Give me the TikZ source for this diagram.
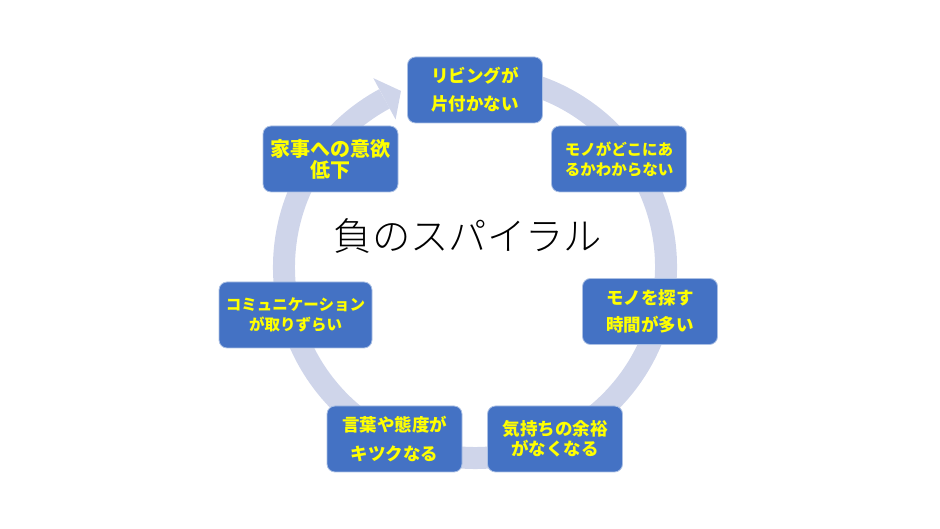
\documentclass[tikz,border=0pt]{standalone}
\usepackage{fontspec}
\newfontfamily\jpfont{Noto Sans CJK JP}
\newfontfamily\jplight{Noto Sans CJK JP}[UprightFont={* Light}]
\usepackage{tikz}
\definecolor{boxblue}{HTML}{4472C4}
\definecolor{ringblue}{HTML}{CFD5EA}
\definecolor{txtyellow}{HTML}{FFFF00}
\newcommand{\boxfont}[2]{\jpfont\bfseries\fontsize{#1}{#2}\selectfont}
\tikzset{
  stepbox/.style={draw=white!55!boxblue, line width=0.8pt, fill=boxblue,
    rounded corners=8pt, minimum width=135pt, minimum height=66pt,
    align=center, text=txtyellow, inner sep=2pt},
  ring/.style={draw=ringblue, line width=22pt},
}

\begin{document}
\begin{tikzpicture}[x=1pt,y=1pt]
  \useasboundingbox (0,0) rectangle (940,529);
  \coordinate (c) at (475,262);
  % ring with arrow head
  \draw[ring] ([shift={(c)}]80:191) arc[start angle=80, end angle=-241.7, radius=191];
  \fill[ringblue] ([shift={(c)}]118.3:214.5)
  -- ([shift={(c)}]118.3:167.5)
  -- ([shift={(c)}]112.8:191) -- cycle;
  % steps
  \node[stepbox, font={\boxfont{17.5}{28}}] (living) at (475,439) {リビングが\\片付かない};
  \node[stepbox, font={\boxfont{15.5}{20}}] (where) at (619,370) {モノがどこにあ\\るかわからない};
  \node[stepbox, font={\boxfont{17.5}{27}}] (search) at (650,217.5) {モノを探す\\時間が多い};
  \node[stepbox, font={\boxfont{17.5}{20}}] (relax) at (555,90) {気持ちの余裕\\がなくなる};
  \node[stepbox, font={\boxfont{17.5}{29}}] (words) at (394.5,90) {言葉や態度が\\キツクなる};
  \node[stepbox, font={\boxfont{15.5}{20}}, minimum width=153pt] (talk) at (295.5,214) {コミュニケーション\\が取りずらい};
  \node[stepbox, font={\boxfont{20}{21}}] (chores) at (330.5,370) {家事への意欲\\低下};
  \node[font={\jplight\fontsize{38.3}{38.3}\selectfont}] (title) at (468,292.5) {負のスパイラル};
\end{tikzpicture}
\end{document}
